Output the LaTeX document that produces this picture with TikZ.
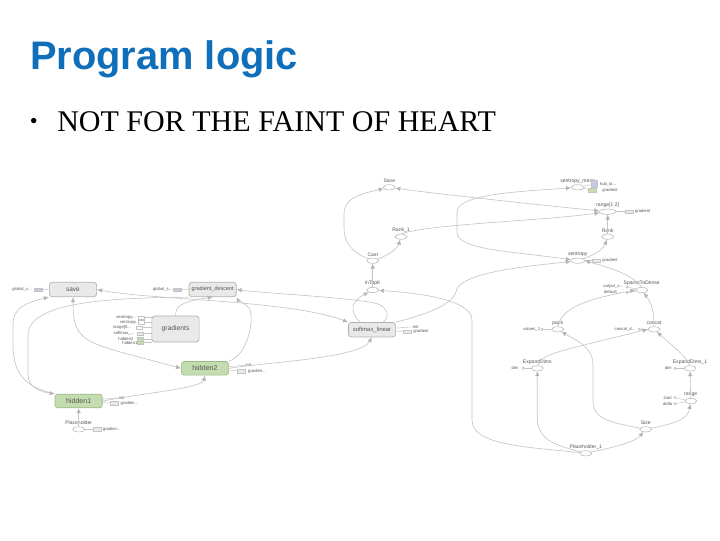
\documentclass[tikz,border=0pt]{standalone}
\usepackage{fontspec}
\setmainfont{Liberation Sans}
\newfontfamily\bodyfont{Liberation Serif}
\usetikzlibrary{shapes.geometric,arrows.meta}
\definecolor{titleblue}{HTML}{0F6FBA}
\definecolor{linegray}{HTML}{C4C4C4}
\definecolor{tipgray}{HTML}{B4B4B4}
\definecolor{boxgray}{HTML}{E9E9E9}
\definecolor{boxline}{HTML}{B0B0B0}
\definecolor{hiddengreen}{HTML}{C3DDAE}
\definecolor{hiddenline}{HTML}{9DB98A}
\definecolor{auxblue}{HTML}{C3CBDF}
\definecolor{textgray}{HTML}{555555}
\newcommand{\dd}{.{}.{}.}
\tikzset{
    flow/.style={draw=linegray, line width=0.45pt, -{Latex[length=3.6pt,width=3.2pt,fill=tipgray,color=tipgray]}},
    flowboth/.style={flow, {Latex[length=3.6pt,width=3.2pt,fill=tipgray,color=tipgray]}-{Latex[length=3.6pt,width=3.2pt,fill=tipgray,color=tipgray]}},
    stub/.style={draw=linegray, line width=0.35pt},
    mainbox/.style={draw=boxline, fill=boxgray, rounded corners=2pt, line width=0.5pt, inner sep=0pt, minimum width=1.18cm, minimum height=0.36cm, font=\fontsize{4.6}{5}\selectfont, text=textgray},
    greenbox/.style={mainbox, draw=hiddenline, fill=hiddengreen, minimum height=0.34cm, font=\fontsize{5}{6}\selectfont},
    opnode/.style={ellipse, draw=boxline, fill=white, line width=0.35pt, inner sep=0pt, minimum width=0.3cm, minimum height=0.13cm},
    auxbox/.style={draw=linegray, fill=boxgray, line width=0.2pt, inner sep=0pt, minimum width=0.2cm, minimum height=0.09cm},
    incircle/.style={circle, draw=boxline, fill=white, line width=0.3pt, inner sep=0pt, minimum size=0.06cm},
    oplabel/.style={inner sep=0pt, text=textgray, font=\fontsize{3.6}{4}\selectfont},
    tinylabel/.style={inner sep=0pt, text=textgray, font=\fontsize{3}{4}\selectfont}
}
\begin{document}
\begin{tikzpicture}[x=0.025cm, y=-0.025cm]
    \useasboundingbox (0,0) rectangle (720,540);
    % title and bullet
    \node[anchor=base west, inner sep=0pt, text=titleblue, font=\fontsize{28.3}{30}\selectfont\bfseries] (title) at (30,69.3) {Program logic};
    \node[anchor=base west, inner sep=0pt, font=\fontsize{16}{18}\selectfont\bodyfont] (bullet) at (29.5,128.5) {•};
    \node[anchor=base west, inner sep=0pt, font=\fontsize{21.35}{24}\selectfont\bodyfont] (heading) at (57,131.7) {NOT FOR THE FAINT OF HEART};

    % big boxes
    \node[mainbox] (save) at (73,289.5) {save};
    \node[mainbox, font=\fontsize{3.9}{5}\selectfont] (descent) at (212.7,289.5) {gradient\_descent};
    \node[mainbox, minimum height=0.65cm, font=\fontsize{4.8}{5}\selectfont] (gradients) at (175.5,329) {gradients};
    \node[greenbox] (hidden2) at (205,368.3) {hidden2};
    \node[greenbox] (hidden1) at (78.7,401) {hidden1};
    \node[mainbox, font=\fontsize{4.2}{5}\selectfont] (softmax) at (372,329.7) {softmax\_linear};

    % small ops with a label above
    \foreach \nm/\x/\y/\w/\txt in {
        placeholder/78.7/429.3/12/Placeholder, savenode/389.3/187.3/12/Save,
        rankone/401/236.7/12/Rank\_1, cast/372.7/260.7/12/Cast,
        intopk/372.7/290/12/InTopK, xmean/577.7/187.3/13/xentropy\_mean,
        rangeA/607.7/211.7/17/range[1 2], rank/607.7/236.7/12/Rank,
        xentropy/577.7/260.7/14/xentropy, sparse/641.7/290/12/SparseToDense,
        pack/557.7/329.3/12/pack, concat/654/329.3/12/concat,
        expand/537.3/368.3/12/ExpandDims, expandone/690/368.3/12/ExpandDims\_1,
        rangeB/690.7/401/12/range, sizenode/645.7/429.3/12/Size,
        placeholderone/585.7/453.3/12/Placeholder\_1} {
        \node[opnode, minimum width=\w*0.025cm] (\nm) at (\x,\y) {};
        \node[oplabel] (\nm L) at (\x,\y-6.4) {\txt};
    }

    % side labels with a small box
    \foreach \nm/\from/\bx/\lx/\y/\txt/\col in {
        sG/save/37.7/22/289.7/global\_s\dd/auxblue, dG/descent/177.3/162.7/289.7/global\_s\dd/auxblue,
        hTwoG/hidden2/240.7/257/371/gradien\dd/boxgray, hOneG/hidden1/114.3/129.3/403.3/gradien\dd/boxgray,
        pG/placeholder/97.3/111.7/429.3/gradien\dd/boxgray, softG/softmax/406.7/421/331.7/gradient/boxgray,
        xmG/xmean/592/610/190/gradient/hiddengreen, raG/rangeA/629.3/642.7/211.7/gradient/boxgray,
        xeG/xentropy/595.7/610/260.7/gradient/boxgray} {
        \node[auxbox, fill=\col] (\nm) at (\bx,\y) {};
        \node[tinylabel] (\nm L) at (\lx,\y) {\txt};
        \draw[stub] (\from) -- (\nm);
    }
    \node[auxbox, fill=auxblue, minimum width=0.15cm, minimum height=0.18cm] (xmS) at (594.3,184) {};
    \node[tinylabel] (xmSL) at (608,184.3) {hub\_la\dd};
    \draw[stub] (xmean) -- (xmS);

    % init labels
    \foreach \nm/\from/\lx/\y in {hTwoI/hidden2/248.3/365, hOneI/hidden1/121.7/397.7, softI/softmax/415.7/326.7} {
        \node[tinylabel] (\nm) at (\lx,\y) {init};
        \draw[stub] (\from) -- (\nm);
    }

    % rows beside gradients
    \foreach \nm/\lx/\bx/\y/\txt/\col in {
        gA/126/141/317.7/xentropy\dd/white, gB/128/141/322.3/xentropy/white,
        gC/122/139/327.7/range[0\dd/white, gD/124/140/333.7/softmax\_\dd/boxgray,
        gE/126/140/339.3/hidden2/hiddengreen, gF/130/140/342.7/hidden1/hiddengreen} {
        \node[auxbox, fill=\col, minimum width=0.15cm] (\nm) at (\bx,\y) {};
        \node[tinylabel] (\nm L) at (\lx,\y) {\txt};
        \draw[stub] (\nm) -- (gradients.west |- \nm);
    }

    % constant inputs
    \foreach \nm/\into/\lx/\cx/\y/\txt in {
        cO/sparse/613.3/627/287/output\_s\dd, cD/sparse/613.3/627/292.7/default\_\dd,
        cV/pack/531.7/542/329.3/values\_1, cC/concat/625/639.3/329.3/concat\_d\dd,
        cE/expand/515/523.3/368.3/dim, cF/expandone/668.3/675/368.3/dim,
        cS/rangeB/667.7/675/397.7/start, cT/rangeB/667.7/675/403.7/delta} {
        \node[incircle] (\nm) at (\cx,\y) {};
        \node[tinylabel] (\nm L) at (\lx,\y) {\txt};
        \draw[stub] (\nm) -- (\into);
    }

    % left side connections
    \draw[flow] (hidden1.north west) .. controls (30,388) and (13,378) .. (13,345) -- (13,325) .. controls (13,308) and (25,303) .. (save.south west);
    \draw[flow] (descent.south west) .. controls (120,298) and (28,300) .. (28,335) -- (28,375) .. controls (28,388) and (42,392) .. (hidden1.north west);
    \draw[flowboth] (save.south) .. controls (73,345) and (85,342) .. (hidden2.west);
    \draw[flow] (hidden1.east) .. controls (145,393) and (202,388) .. (hidden2.south);
    \draw[flow] (gradients.north) .. controls (176,306) and (180,302) .. (descent.south);
    \draw[flow] (hidden2.north east) .. controls (248,355) and (254,320) .. (250,310) .. controls (246,303) and (238,300) .. (descent.south east);
    \draw[flow] ([xshift=0.28cm]softmax.north) .. controls (390,317) and (388,308) .. (378,304) .. controls (360,298) and (260,293) .. (descent.east);
    \draw[flowboth] (save.east) .. controls (150,300) and (290,300) .. (softmax.north west);
    \draw[flow] (hidden2.east) .. controls (270,362) and (360,358) .. (softmax.south);

    % middle
    \draw[flow] ([xshift=-0.3cm]softmax.north) .. controls (350,312) and (350,302) .. (intopk);
    \draw[flow] (intopk) -- (cast);
    \draw[flow] (cast) .. controls (352,252) and (344,243) .. (344,228) -- (344,214) .. controls (344,198) and (360,194) .. (savenode);
    \draw[flow] (cast) .. controls (392,254) and (398,247) .. (rankone);
    \draw[flowboth] (savenode) .. controls (430,193) and (530,204) .. (rangeA);
    \draw[flow] (rankone.north) .. controls (430,224) and (540,221) .. (rangeA);
    \draw[flowboth] (xmean) .. controls (530,191) and (457,193) .. (457,212) -- (457,232) .. controls (457,250) and (510,251) .. (xentropy);
    \draw[flow] (softmax.north east) .. controls (420,316) and (452,306) .. (456,292) .. controls (458,272) and (530,266) .. (xentropy);
    \draw[flow] (placeholderone) .. controls (530,447) and (472,446) .. (472,420) -- (472,320) .. controls (472,300) and (420,293) .. (intopk);

    % right side
    \draw[flow] (rank) -- (rangeA);
    \draw[flow] (xentropy) .. controls (597,254) and (604,248) .. (rank);
    \draw[flow] (sparse.north) .. controls (632,274) and (610,268) .. (xentropy.east);
    \draw[flow] (concat.north) .. controls (654,312) and (652,304) .. (sparse);
    \draw[flow] (pack.north) .. controls (562,304) and (600,297) .. (sparse.west);
    \draw[flow] (sizenode) .. controls (610,422) and (593,420) .. (593,400) -- (593,365) .. controls (593,346) and (575,340) .. (pack);
    \draw[flow] (sizenode) .. controls (672,424) and (688,420) .. (rangeB);
    \draw[flow] (placeholderone) .. controls (615,447) and (635,442) .. (sizenode);
    \draw[flow] (placeholderone) .. controls (560,446) and (537.3,442) .. (537.3,418) -- (expand);
    \draw[flow] (rangeB) -- (expandone);
    \draw[flow] (expandone) .. controls (688,358) and (675,348) .. (concat);
    \draw[flow] (expand) .. controls (542,354) and (548,354) .. (concat.west);
    \draw[flow] (placeholder) -- (hidden1);
\end{tikzpicture}
\end{document}
